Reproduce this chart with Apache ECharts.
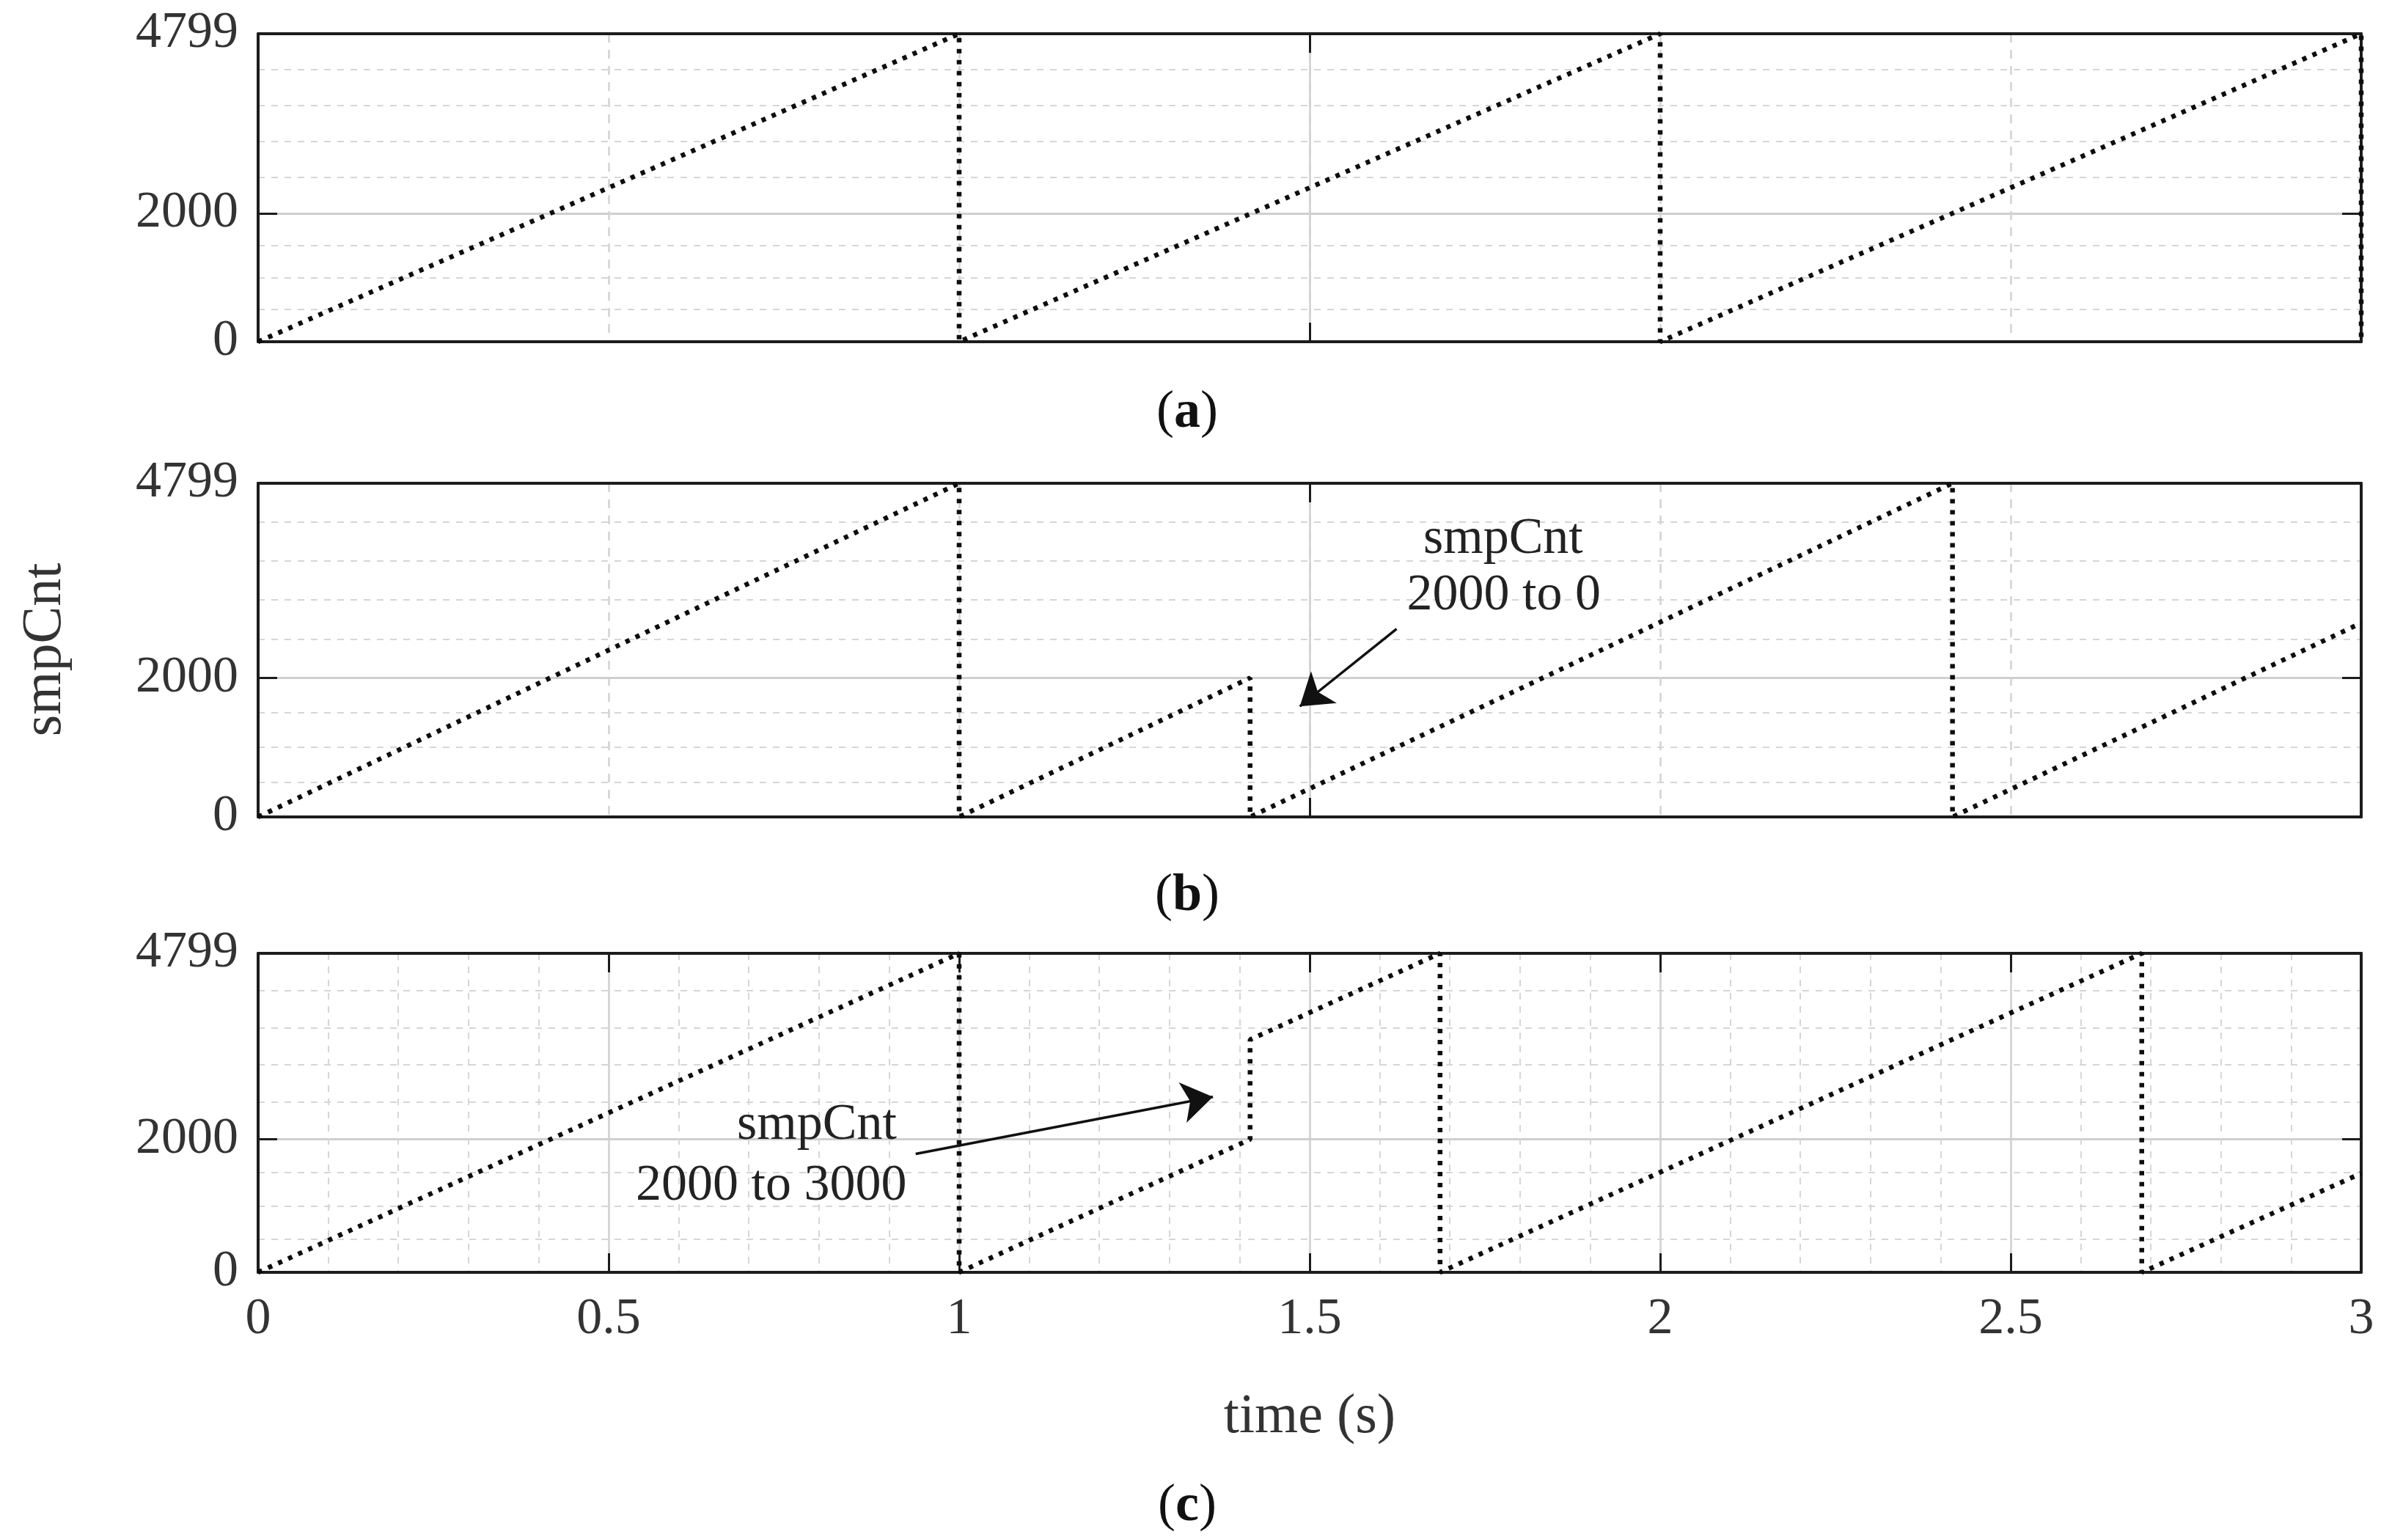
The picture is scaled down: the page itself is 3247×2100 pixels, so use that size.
<!DOCTYPE html>
<html><head><meta charset="utf-8">
<script src="https://cdn.jsdelivr.net/npm/echarts@6/dist/echarts.min.js"></script>
<style>html,body{margin:0;padding:0;background:#fff}#c{width:3247px;height:2100px}</style>
</head><body><div id="c"></div>
<script>
// ---------- data ----------
const timeA = [0, 1, 1, 2, 2, 3, 3];
const cntA  = [0, 4799, 0, 4799, 0, 4799, 0];
const timeB = [0, 1, 1, 1.415, 1.415, 2.417, 2.417, 3];
const cntB  = [0, 4799, 0, 2000, 0, 4799, 0, 2790];
const timeC = [0, 1, 1, 1.415, 1.415, 1.686, 1.686, 2.687, 2.687, 3];
const cntC  = [0, 4799, 0, 2000, 3500, 4799, 0, 4799, 0, 1490];

const yLabelTicks = [0, 2000, 4799];
const yMajorTicks = [2000];
const yMinorTicks = [500, 1000, 1500, 2560, 3120, 3680, 4240];
const xTickStep = 0.5;
const xTickLabels = ['0', '0.5', '1', '1.5', '2', '2.5', '3'];
const xSolidTicksAB = [1.5];

const panelNames = ['a', 'b', 'c'];
const yTitle = 'smpCnt';
const xTitle = 'time (s)';

// annotations: arrow [start, end] in [time, count]; texts
const arrowB = [[1.624, 2705], [1.486, 1590]];
const textB  = [[1.776, 3987, 'smpCnt'], [1.777, 3175, '2000 to 0']];
const arrowC = [[0.938, 1782], [1.362, 2640]];
const textC  = [[0.797, 2212, 'smpCnt'], [0.732, 1296, '2000 to 3000']];

// ---------- style ----------
const SERIF = '"Liberation Serif", "Times New Roman", serif';
const FRAME = '#1c1c1c';
const TXT = '#333';
const grids = [
  {left: 352, right: 27, top: 46, height: 420},
  {left: 352, right: 27, top: 659, height: 455},
  {left: 352, right: 27, top: 1300, height: 435}
];

const xAxes = [], yAxes = [];
const mainX = [], mainY = [];
grids.forEach((g, gi) => {
  const isC = gi === 2;
  mainX.push(xAxes.length);
  xAxes.push({
    gridIndex: gi, type: 'value', min: 0, max: 3, interval: xTickStep, position: 'bottom',
    axisLine: {show: true, onZero: false, lineStyle: {color: FRAME, width: 4}},
    axisTick: Object.assign({show: true, inside: true, length: 26, lineStyle: {color: FRAME, width: 3}},
      isC ? {} : {customValues: xSolidTicksAB}),
    axisLabel: {show: isC, margin: 30, fontSize: 70, fontFamily: SERIF, color: TXT,
      formatter: v => xTickLabels[Math.round(v / xTickStep)]},
    splitLine: {show: true, lineStyle: {color: '#cfcfcf', width: 2.5}},
    minorTick: {show: false, splitNumber: 5},
    minorSplitLine: {show: isC, lineStyle: {color: '#d6d6d6', width: 2, type: [9, 9]}},
    name: isC ? xTitle : '', nameLocation: 'middle', nameGap: 160,
    nameTextStyle: {fontSize: 76, fontFamily: SERIF, color: TXT}
  });
  xAxes.push({
    gridIndex: gi, type: 'value', min: 0, max: 3, interval: xTickStep, position: 'top',
    axisLine: {show: true, onZero: false, lineStyle: {color: FRAME, width: 4}},
    axisTick: Object.assign({show: true, inside: true, length: 26, lineStyle: {color: FRAME, width: 3}},
      isC ? {} : {customValues: xSolidTicksAB}),
    axisLabel: {show: false}, splitLine: {show: false}
  });
  if (!isC) {
    xAxes.push({
      gridIndex: gi, type: 'value', min: 0, max: 3, interval: xTickStep, position: 'bottom',
      axisLine: {show: false}, axisTick: {show: false}, axisLabel: {show: false},
      splitLine: {show: true, lineStyle: {color: '#d2d2d2', width: 2.5, type: [12, 10]}}
    });
  }
  mainY.push(yAxes.length);
  yAxes.push({
    gridIndex: gi, type: 'value', min: 0, max: 4799, position: 'left',
    axisLine: {show: true, onZero: false, lineStyle: {color: FRAME, width: 4}},
    axisTick: {show: true, inside: true, length: 26, customValues: yMajorTicks, lineStyle: {color: FRAME, width: 3}},
    axisLabel: {show: true, customValues: yLabelTicks, margin: 27, fontSize: 70, fontFamily: SERIF, color: TXT,
      formatter: v => String(v)},
    splitLine: {show: true, lineStyle: {color: '#cfcfcf', width: 3}}
  });
  yAxes.push({
    gridIndex: gi, type: 'value', min: 0, max: 4799, position: 'right',
    axisLine: {show: true, onZero: false, lineStyle: {color: FRAME, width: 4}},
    axisTick: {show: true, inside: true, length: 26, customValues: yMajorTicks, lineStyle: {color: FRAME, width: 3}},
    axisLabel: {show: false}, splitLine: {show: false}
  });
  yAxes.push({
    gridIndex: gi, type: 'value', min: 0, max: 4799, position: 'left',
    axisLine: {show: false}, axisTick: {show: false, customValues: yMinorTicks}, axisLabel: {show: false},
    splitLine: {show: true, lineStyle: {color: '#d6d6d6', width: 2, type: [9, 9]}}
  });
});

const dotted = {color: '#0d0d0d', width: 6.5, type: [6, 9], cap: 'butt'};
function pairs(t, c) { return t.map((x, i) => [x, c[i]]); }
function textPoints(arr) {
  return arr.map(p => ({coord: [p[0], p[1]], label: {formatter: p[2]}}));
}
function annotation(arrow, texts) {
  return {
    markLine: {
      silent: true, animation: false, symbol: ['none', 'arrow'], symbolSize: 42,
      lineStyle: {color: '#111', width: 3.5, type: 'solid'}, label: {show: false},
      data: [[{coord: arrow[0]}, {coord: arrow[1]}]]
    },
    markPoint: {
      silent: true, animation: false, symbol: 'circle', symbolSize: 1,
      itemStyle: {color: 'rgba(0,0,0,0)'},
      label: {show: true, position: 'inside', fontSize: 70, fontFamily: SERIF, color: '#222'},
      data: textPoints(texts)
    }
  };
}
const baseSeries = {type: 'line', showSymbol: false, symbol: 'none', clip: false, animation: false,
  lineStyle: dotted, z: 5};
const series = [
  Object.assign({}, baseSeries, {xAxisIndex: mainX[0], yAxisIndex: mainY[0], data: pairs(timeA, cntA)}),
  Object.assign({}, baseSeries, {xAxisIndex: mainX[1], yAxisIndex: mainY[1], data: pairs(timeB, cntB)},
    annotation(arrowB, textB)),
  Object.assign({}, baseSeries, {xAxisIndex: mainX[2], yAxisIndex: mainY[2], data: pairs(timeC, cntC)},
    annotation(arrowC, textC))
];

const labelYs = [563, 1222, 2054];
const graphic = panelNames.map((n, i) => ({
  type: 'text', x: 1619, y: labelYs[i],
  style: {text: '{p|(}{b|' + n + '}{p|)}', align: 'center', verticalAlign: 'middle',
    rich: {p: {fontSize: 72, fontFamily: SERIF, fill: '#111'},
           b: {fontSize: 72, fontFamily: SERIF, fontWeight: 'bold', fill: '#111'}}}
}));
graphic.push({
  type: 'text', x: 62, y: 886, rotation: Math.PI / 2,
  style: {text: yTitle, align: 'center', verticalAlign: 'middle', fontSize: 76, fontFamily: SERIF, fill: TXT}
});

const chart = echarts.init(document.getElementById('c'), null, {renderer: 'canvas'});
chart.setOption({
  backgroundColor: '#fff',
  animation: false,
  grid: grids,
  xAxis: xAxes,
  yAxis: yAxes,
  series: series,
  graphic: graphic
});
</script></body></html>
